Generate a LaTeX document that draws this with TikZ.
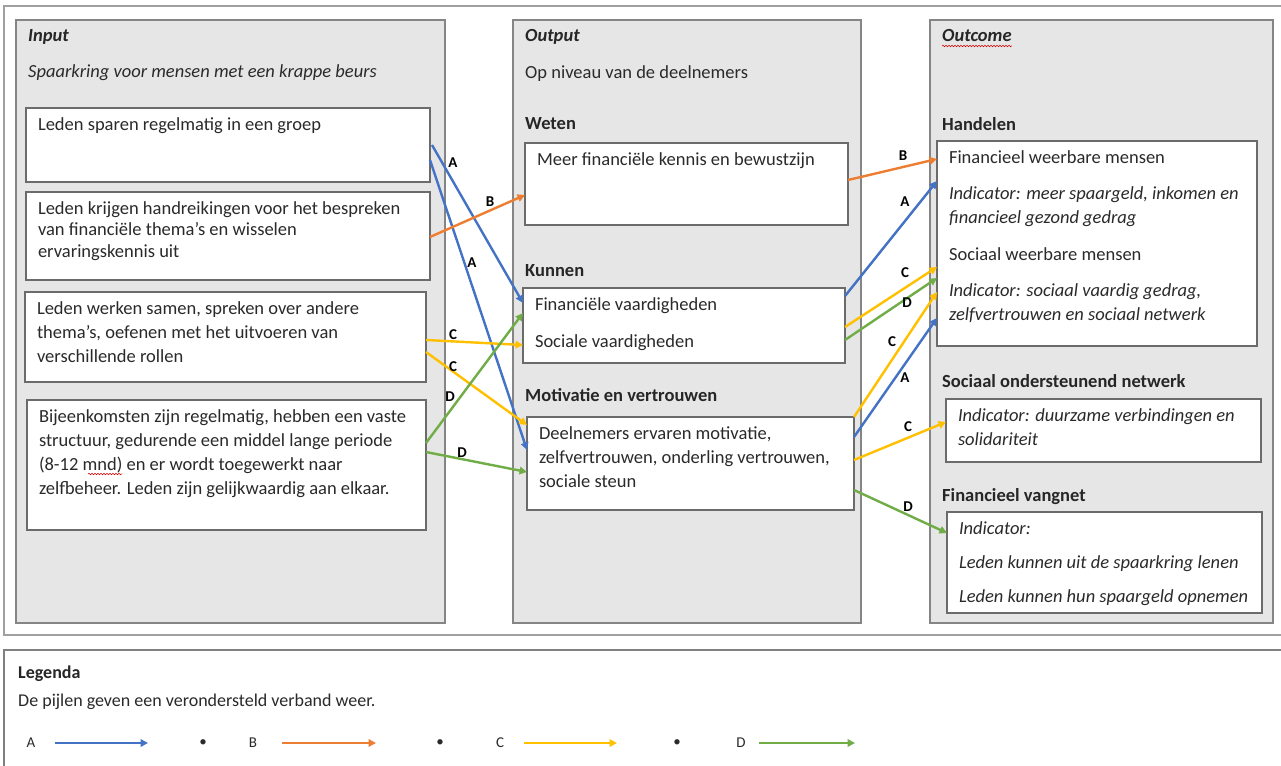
\documentclass[tikz,border=0pt]{standalone}
\usepackage{fontspec}
\setmainfont{Carlito}
\usetikzlibrary{arrows.meta,calc,decorations.pathmorphing}
\definecolor{colfill}{HTML}{E7E6E6}
\definecolor{colline}{HTML}{858585}
\definecolor{boxline}{HTML}{6B6B6B}
\definecolor{frameline}{HTML}{A0A0A0}
\definecolor{txt}{HTML}{2A2A2A}
\definecolor{cA}{HTML}{4472C4}
\definecolor{cB}{HTML}{ED7D31}
\definecolor{cC}{HTML}{FFC000}
\definecolor{cD}{HTML}{70AD47}
\newcommand\tbx[3]{\parbox[t][#1pt][t]{#2pt}{\raggedright\strut #3}}
\begin{document}
\begin{tikzpicture}[x=1pt,y=-1pt,
  every node/.style={text=txt, font=\fontsize{18.5}{24}\selectfont},
  framebox/.style={draw=frameline, line width=1.8pt, inner sep=0, outer sep=0, anchor=north west},
  colbox/.style={draw=colline, fill=colfill, line width=1.8pt, inner sep=0, outer sep=0, anchor=north west},
  tbox/.style={draw=boxline, fill=white, line width=1.5pt, inner xsep=12pt, inner ysep=5.2pt, outer sep=0, anchor=north west},
  plain/.style={anchor=base west, inner sep=0},
  headb/.style={plain, font=\fontsize{18.5}{24}\selectfont\bfseries, text=black!85},
  headbi/.style={plain, font=\fontsize{18.5}{24}\selectfont\bfseries\itshape, text=black!85},
  itxt/.style={plain, font=\fontsize{18.5}{24}\selectfont\itshape},
  lbl/.style={inner sep=0, font=\fontsize{15}{17}\selectfont\bfseries, text=black},
  arr/.style={line width=2.4pt, -{Triangle[length=7.5pt,width=7.5pt]}},
  arrA/.style={arr, draw=cA},
  arrB/.style={arr, draw=cB},
  arrC/.style={arr, draw=cC},
  arrD/.style={arr, draw=cD},
  legt/.style={plain, font=\fontsize{18}{22}\selectfont},
  legh/.style={plain, font=\fontsize{18}{22}\selectfont\bfseries, text=black!85},
  legl/.style={inner sep=0, font=\fontsize{15}{18}\selectfont},
  spell/.style={draw=red!85!black, line width=0.6pt, decorate, decoration={snake, segment length=3pt, amplitude=0.7pt}}
]
\useasboundingbox (0,0) rectangle (1281,765);
\fill[white] (0,0) rectangle (1281,765);

% frames and columns
\node[framebox, minimum width=1300pt, minimum height=629pt] (outer) at (4,6) {};
\node[colbox, minimum width=429pt, minimum height=603pt] (incol) at (16,20) {};
\node[colbox, minimum width=348pt, minimum height=603pt] (outcol) at (513,20) {};
\node[colbox, minimum width=343pt, minimum height=603pt] (oucol) at (930,20) {};

% headings
\node[headbi] (hIn) at (28,42) {Input};
\node[itxt] (hInSub) at (28,78) {Spaarkring voor mensen met een krappe beurs};
\node[headbi] (hOutp) at (525,42) {Output};
\node[plain] (hOutSub) at (525,79) {Op niveau van de deelnemers};
\node[headb] (hWet) at (525,129) {Weten};
\node[headb] (hKun) at (525,276) {Kunnen};
\node[headb] (hMot) at (525,401) {Motivatie en vertrouwen};
\node[headbi] (hOutc) at (942,42) {Outcome};
\node[headb] (hHan) at (942,130) {Handelen};
\node[headb] (hSoc) at (942,387) {Sociaal ondersteunend netwerk};
\node[headb] (hFin) at (942,501) {Financieel vangnet};
\draw[spell] ($(hOutc.base west)+(0,4)$) -- ($(hOutc.base east)+(0,4)$);

% input boxes
\node[tbox] (in1) at (26,108) {\tbx{63.6}{380}{Leden sparen regelmatig in een groep}};
\node[tbox] (in2) at (26,192) {\tbx{77.6}{380}{\baselineskip=21.5pt Leden krijgen handreikingen voor het bespreken\\van financiële thema’s en wisselen\\ervaringskennis uit}};
\node[tbox] (in3) at (25,292) {\tbx{79.6}{377}{Leden werken samen, spreken over andere\\thema’s, oefenen met het uitvoeren van\\verschillende rollen}};
\node[tbox] (in4) at (27,400) {\tbx{119.6}{375}{Bijeenkomsten zijn regelmatig, hebben een vaste\\structuur, gedurende een middel lange periode\\(8-12 mnd) en er wordt toegewerkt naar\\zelfbeheer. Leden zijn gelijkwaardig aan elkaar.}};
\draw[spell] (88,474) -- (122,474);

% output boxes
\node[tbox] (wet) at (525,143) {\tbx{71.6}{299}{Meer financiële kennis en bewustzijn}};
\node[tbox] (kun) at (523,288) {\tbx{64.6}{298}{Financiële vaardigheden\\[13pt]Sociale vaardigheden}};
\node[tbox] (mot) at (527,417) {\tbx{82.6}{303}{Deelnemers ervaren motivatie,\\zelfvertrouwen, onderling vertrouwen,\\sociale steun}};

% outcome boxes
\node[tbox] (han) at (937,141) {\tbx{194.6}{296}{Financieel weerbare mensen\\[12pt]\textit{Indicator: meer spaargeld, inkomen en\\financieel gezond gedrag}\\[13pt]Sociaal weerbare mensen\\[12pt]\textit{Indicator: sociaal vaardig gedrag,\\zelfvertrouwen en sociaal netwerk}}};
\node[tbox] (soc) at (946,399) {\tbx{52.6}{291}{\textit{Indicator: duurzame verbindingen en\\solidariteit}}};
\node[tbox] (fin) at (947,512) {\tbx{90.6}{291}{\textit{Indicator:\\[10pt]Leden kunnen uit de spaarkring lenen\\[10pt]Leden kunnen hun spaargeld opnemen}}};

% connectors input -> output
\draw[arrA] ($(in1.north east)+(2,37)$) -- ($(kun.north west)+(0,15)$);
\draw[arrA] ($(in1.north east)+(0,52)$) -- ($(mot.north west)+(0,33)$);
\draw[arrB] ($(in2.north east)+(0,45)$) -- ($(wet.north west)+(0,52)$);
\draw[arrC] ($(in3.north east)+(0,48)$) -- ($(kun.north west)+(0,57)$);
\draw[arrC] ($(in3.north east)+(0,60)$) -- ($(mot.north west)+(0,8)$);
\draw[arrD] ($(in4.north east)+(0,43)$) -- ($(kun.north west)+(0,25)$);
\draw[arrD] ($(in4.north east)+(0,52)$) -- ($(mot.north west)+(0,55)$);

% connectors output -> outcome
\draw[arrB] ($(wet.north east)+(0,37)$) -- ($(han.north west)+(0,18)$);
\draw[arrA] ($(kun.north east)+(0,8)$) -- ($(han.north west)+(0,40)$);
\draw[arrC] ($(kun.north east)+(0,39)$) -- ($(han.north west)+(0,126)$);
\draw[arrD] ($(kun.north east)+(0,52)$) -- ($(han.north west)+(0,137)$);
\draw[arrC] ($(mot.north east)+(0,0)$) -- ($(han.north west)+(0,151)$);
\draw[arrA] ($(mot.north east)+(0,20)$) -- ($(han.north west)+(0,177)$);
\draw[arrC] ($(mot.north east)+(0,43)$) -- ($(soc.north west)+(0,23)$);
\draw[arrD] ($(mot.north east)+(0,73)$) -- ($(fin.north west)+(0,21)$);

% connector labels
\node[lbl] (l1) at (453,163) {A};
\node[lbl] (l2) at (472,263) {A};
\node[lbl] (l3) at (490,202) {B};
\node[lbl] (l4) at (453,335) {C};
\node[lbl] (l5) at (453,367) {C};
\node[lbl] (l6) at (450,397) {D};
\node[lbl] (l7) at (462,453) {D};
\node[lbl] (l8) at (903,156) {B};
\node[lbl] (l9) at (905,202) {A};
\node[lbl] (l10) at (905,273) {C};
\node[lbl] (l11) at (907,303) {D};
\node[lbl] (l12) at (892,342) {C};
\node[lbl] (l13) at (905,378) {A};
\node[lbl] (l14) at (908,427) {C};
\node[lbl] (l15) at (908,507) {D};

% legend
\node[framebox, draw=frameline!80!black, minimum width=1300pt, minimum height=130pt] (leg) at (4,650) {};
\node[legh] (legT) at (18,678) {Legenda};
\node[legt] (legS) at (18,706) {De pijlen geven een verondersteld verband weer.};
\node[legl] (lgA) at (31,743) {A};
\node[legl] (lgB) at (253,743) {B};
\node[legl] (lgC) at (500,743) {C};
\node[legl] (lgD) at (741,743) {D};
\node[legl] (dot1) at (203,743) {\textbullet};
\node[legl] (dot2) at (440,743) {\textbullet};
\node[legl] (dot3) at (677,743) {\textbullet};
\coordinate (lgA1) at (55,743); \coordinate (lgA2) at (148,743);
\coordinate (lgB1) at (282,743); \coordinate (lgB2) at (376,743);
\coordinate (lgC1) at (524,743); \coordinate (lgC2) at (617,743);
\coordinate (lgD1) at (759,743); \coordinate (lgD2) at (855,743);
\draw[arrA, line width=2.2pt] (lgA1) -- (lgA2);
\draw[arrB, line width=2.2pt] (lgB1) -- (lgB2);
\draw[arrC, line width=2.2pt] (lgC1) -- (lgC2);
\draw[arrD, line width=2.2pt] (lgD1) -- (lgD2);
\end{tikzpicture}
\end{document}
